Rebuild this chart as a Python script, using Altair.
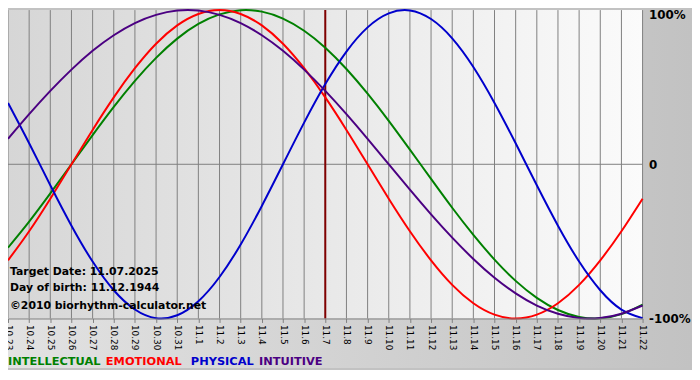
import altair as alt
import pandas as pd

# ---- data ----
dates = ["10.23", "10.24", "10.25", "10.26", "10.27", "10.28", "10.29", "10.30", "10.31",
         "11.1", "11.2", "11.3", "11.4", "11.5", "11.6", "11.7", "11.8", "11.9", "11.10",
         "11.11", "11.12", "11.13", "11.14", "11.15", "11.16", "11.17", "11.18", "11.19",
         "11.20", "11.21", "11.22"]
intellectual = [-0.541, -0.372, -0.189, 0.0, 0.189, 0.372, 0.541, 0.690, 0.815, 0.910, 0.972,
                0.999, 0.990, 0.945, 0.866, 0.756, 0.618, 0.458, 0.282, 0.095, -0.095, -0.282,
                -0.458, -0.618, -0.756, -0.866, -0.945, -0.990, -0.999, -0.972, -0.910]
emotional = [-0.623, -0.434, -0.223, 0.0, 0.223, 0.434, 0.623, 0.782, 0.901, 0.975, 1.0,
             0.975, 0.901, 0.782, 0.623, 0.434, 0.223, 0.0, -0.223, -0.434, -0.623, -0.782,
             -0.901, -0.975, -1.0, -0.975, -0.901, -0.782, -0.623, -0.434, -0.223]
physical = [0.398, 0.136, -0.136, -0.398, -0.631, -0.817, -0.942, -0.998, -0.979, -0.888,
            -0.731, -0.520, -0.270, 0.0, 0.270, 0.520, 0.731, 0.888, 0.979, 0.998, 0.942,
            0.817, 0.631, 0.398, 0.136, -0.136, -0.398, -0.631, -0.817, -0.942, -0.998]
intuitive = [0.165, 0.325, 0.476, 0.614, 0.736, 0.837, 0.916, 0.969, 0.997, 0.997, 0.969,
             0.916, 0.837, 0.736, 0.614, 0.476, 0.325, 0.165, 0.0, -0.165, -0.325, -0.476,
             -0.614, -0.736, -0.837, -0.916, -0.969, -0.997, -0.997, -0.969, -0.916]
series_names = ["INTELLECTUAL", "EMOTIONAL", "PHYSICAL", "INTUITIVE"]
series_colors = ["#008000", "#ff0000", "#0000cc", "#4b0082"]
target_date = "11.7"
y_ticks = [-1, 0, 1]
y_labels = ["-100%", "0", "100%"]
info_lines = ["Target Date: 11.07.2025", "Day of birth: 11.12.1944",
              "\u00a92010 biorhythm-calculator.net"]

# ---- layout constants ----
W, H = 642, 312
PAD_R, PAD_B = 50, 50
FONT = "DejaVu Sans"

rows = []
for name, vals in zip(series_names, [intellectual, emotional, physical, intuitive]):
    for d, v in zip(dates, vals):
        rows.append({"date": d, "value": v, "series": name})
df = pd.DataFrame(rows)

one = alt.Data(values=[{}])

label_expr = " : ".join(
    f"datum.value == {v} ? '{l}'" for v, l in zip(y_ticks, y_labels)) + " : ''"

x_axis = alt.Axis(title=None, labelAngle=90, labelAlign="left", labelBaseline="middle",
                  labelFont=FONT, labelFontSize=9, labelColor="black",
                  domainColor="#808080", tickColor="#808080", tickSize=4,
                  labelPadding=2, grid=False, labelOverlap=False, labelBound=False,
                  zindex=1)
y_axis = alt.Axis(title=None, orient="right", values=y_ticks, labelExpr=label_expr,
                  grid=False, domain=False, ticks=False, labelPadding=6,
                  labelFont=FONT, labelFontSize=12, labelFontWeight="bold",
                  labelColor="black", labelBound=False, zindex=1,
                  labelBaseline=alt.expr("datum.value == 1 ? 'top' : 'middle'"))
x_enc = alt.X("date:O", scale=alt.Scale(type="point", domain=dates, padding=0),
              sort=dates, axis=x_axis)
y_enc = alt.Y("value:Q", scale=alt.Scale(domain=[-1, 1], nice=False, zero=False),
              axis=y_axis)

bg_all = alt.Chart(one).mark_rect(
    fill=alt.Gradient(gradient="linear",
                      stops=[alt.GradientStop(color="#e2e2e2", offset=0),
                             alt.GradientStop(color="#c2c2c2", offset=1)],
                      x1=0, x2=1, y1=0, y2=0)
).encode(x=alt.value(0), x2=alt.value(W + PAD_R), y=alt.value(0), y2=alt.value(H + PAD_B))

bg_plot = alt.Chart(one).mark_rect(
    fill=alt.Gradient(gradient="linear",
                      stops=[alt.GradientStop(color="#d6d6d6", offset=0),
                             alt.GradientStop(color="#fbfbfb", offset=1)],
                      x1=0, x2=1, y1=0, y2=0)
).encode(x=alt.value(0), x2=alt.value(W), y=alt.value(0), y2=alt.value(H))

vgrid = alt.Chart(pd.DataFrame({"date": dates})).mark_rule(
    color="#808080", strokeWidth=1
).encode(x=x_enc)

zero = alt.Chart(pd.DataFrame({"value": [0]})).mark_rule(
    color="#808080", strokeWidth=1
).encode(y=y_enc, x=alt.value(0), x2=alt.value(W))

marker = alt.Chart(pd.DataFrame({"date": [target_date]})).mark_rule(
    color="#800000", strokeWidth=2
).encode(x=x_enc)

lines = alt.Chart(df).mark_line(strokeWidth=2, interpolate="natural").encode(
    x=x_enc,
    y=y_enc,
    color=alt.Color("series:N", scale=alt.Scale(domain=series_names, range=series_colors),
                    legend=None),
)

layers = [bg_all, bg_plot, vgrid, zero, marker, lines]

info_y = [265, 281, 299]
for txt, yy in zip(info_lines, info_y):
    layers.append(alt.Chart(one).mark_text(
        align="left", baseline="middle", font=FONT, fontSize=11, fontWeight="bold",
        color="black"
    ).encode(x=alt.value(2), y=alt.value(yy), text=alt.value(txt)))

legend_x = [0, 99, 185, 254]
for name, col, xx in zip(series_names, series_colors, legend_x):
    layers.append(alt.Chart(one).mark_text(
        align="left", baseline="middle", font=FONT, fontSize=11.5, fontWeight="bold",
        color=col
    ).encode(x=alt.value(xx), y=alt.value(H + 44), text=alt.value(name)))

chart = alt.layer(*layers).properties(
    width=W, height=H,
    autosize=alt.AutoSizeParams(type="none"),
    padding={"left": 0, "top": 0, "right": PAD_R, "bottom": PAD_B},
    background="#c2c2c2"
).configure_view(stroke=None)

chart.save("out.html", embed_options={"renderer": "svg", "actions": False})
